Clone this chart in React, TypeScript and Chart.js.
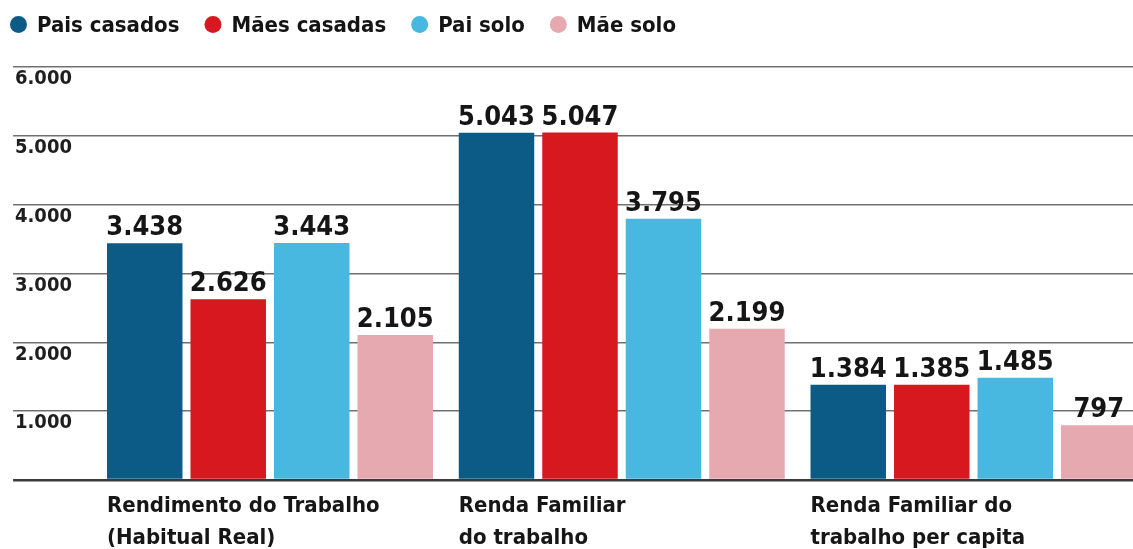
import React, { useEffect, useRef } from 'react';
import { Chart, registerables } from 'chart.js';

Chart.register(...registerables);

const categories = [
  ['Rendimento do Trabalho', '(Habitual Real)'],
  ['Renda Familiar', 'do trabalho'],
  ['Renda Familiar do', 'trabalho per capita'],
];
const seriesNames = ['Pais casados', 'Mães casadas', 'Pai solo', 'Mãe solo'];
const paisCasados = [3438, 5043, 1384];
const maesCasadas = [2626, 5047, 1385];
const paiSolo = [3443, 3795, 1485];
const maeSolo = [2105, 2199, 797];
const seriesColors = ['#0b5b86', '#d7191f', '#48b8e0', '#e6a9b0'];
const yMin = 0;
const yMax = 6000;
const yStep = 1000;

const FONT = "'DejaVu Sans Condensed', 'DejaVu Sans', sans-serif";
const CANVAS_W = 1300;
const CANVAS_H = 549;

const fmt = (v: number) => String(v).replace(/\B(?=(\d{3})+(?!\d))/g, '.');

const legendPlugin = {
  id: 'customLegend',
  afterDraw(chart: any) {
    const ctx = chart.ctx;
    ctx.save();
    ctx.font = `bold 22px ${FONT}`;
    ctx.textBaseline = 'alphabetic';
    ctx.textAlign = 'left';
    let x = 10;
    chart.data.datasets.forEach((ds: any) => {
      ctx.fillStyle = ds.backgroundColor;
      ctx.beginPath();
      ctx.arc(x + 8.5, 24.5, 8.5, 0, Math.PI * 2);
      ctx.fill();
      ctx.fillStyle = '#141414';
      ctx.fillText(ds.label, x + 27, 32);
      x += 27 + ctx.measureText(ds.label).width + 25;
    });
    ctx.restore();
  },
};

const valueLabelPlugin = {
  id: 'valueLabels',
  afterDatasetsDraw(chart: any) {
    const ctx = chart.ctx;
    ctx.save();
    ctx.font = `bold 27px ${FONT}`;
    ctx.textAlign = 'center';
    ctx.textBaseline = 'alphabetic';
    ctx.fillStyle = '#151515';
    chart.data.datasets.forEach((ds: any, i: number) => {
      const meta = chart.getDatasetMeta(i);
      meta.data.forEach((bar: any, j: number) => {
        ctx.fillText(fmt(ds.data[j]), bar.x, bar.y - 8);
      });
    });
    ctx.restore();
  },
};

export default function App() {
  const canvasRef = useRef<HTMLCanvasElement>(null);

  useEffect(() => {
    if (!canvasRef.current) return;
    const seriesValues = [paisCasados, maesCasadas, paiSolo, maeSolo];
    const chart = new Chart(canvasRef.current, {
      type: 'bar',
      data: {
        labels: categories,
        datasets: seriesNames.map((name, i) => ({
          label: name,
          data: seriesValues[i],
          backgroundColor: seriesColors[i],
          borderWidth: 0,
          categoryPercentage: 0.9495,
          barPercentage: 0.904,
        })),
      },
      options: {
        responsive: false,
        animation: false,
        devicePixelRatio: 1,
        layout: { padding: { left: 15, right: CANVAS_W - 1149.4, top: 67, bottom: 0 } },
        plugins: {
          legend: { display: false },
          tooltip: { enabled: false },
          title: { display: false },
        },
        scales: {
          x: {
            offset: true,
            grid: { display: false, drawTicks: false },
            border: { display: false },
            afterFit: (s: any) => {
              s.height = 69;
            },
            ticks: {
              align: 'start',
              labelOffset: -163,
              padding: 10,
              autoSkip: false,
              maxRotation: 0,
              color: '#161616',
              font: { family: FONT, size: 22, weight: 'bold', lineHeight: 1.45 },
            },
          },
          y: {
            min: yMin,
            max: yMax,
            border: { display: false },
            afterFit: (s: any) => {
              s.width = 79.1;
            },
            grid: {
              drawTicks: true,
              tickLength: 81,
              color: (c: any) => (c.tick && c.tick.value === 0 ? '#3a3a3a' : '#707070'),
              lineWidth: (c: any) => (c.tick && c.tick.value === 0 ? 2.5 : 1.5),
            },
            ticks: {
              stepSize: yStep,
              crossAlign: 'far',
              labelOffset: 12,
              color: '#1e1e1e',
              font: { family: FONT, size: 20, weight: 'bold' },
              callback: (v: any) => (Number(v) === 0 ? '' : fmt(Number(v))),
            },
          },
        },
      },
      plugins: [legendPlugin, valueLabelPlugin],
    } as any);
    return () => chart.destroy();
  }, []);

  return (
    <div
      style={{
        position: 'fixed',
        left: 0,
        top: 0,
        width: 1133,
        height: 549,
        overflow: 'hidden',
        background: '#ffffff',
      }}
    >
      <canvas ref={canvasRef} width={CANVAS_W} height={CANVAS_H} style={{ display: 'block' }} />
    </div>
  );
}
